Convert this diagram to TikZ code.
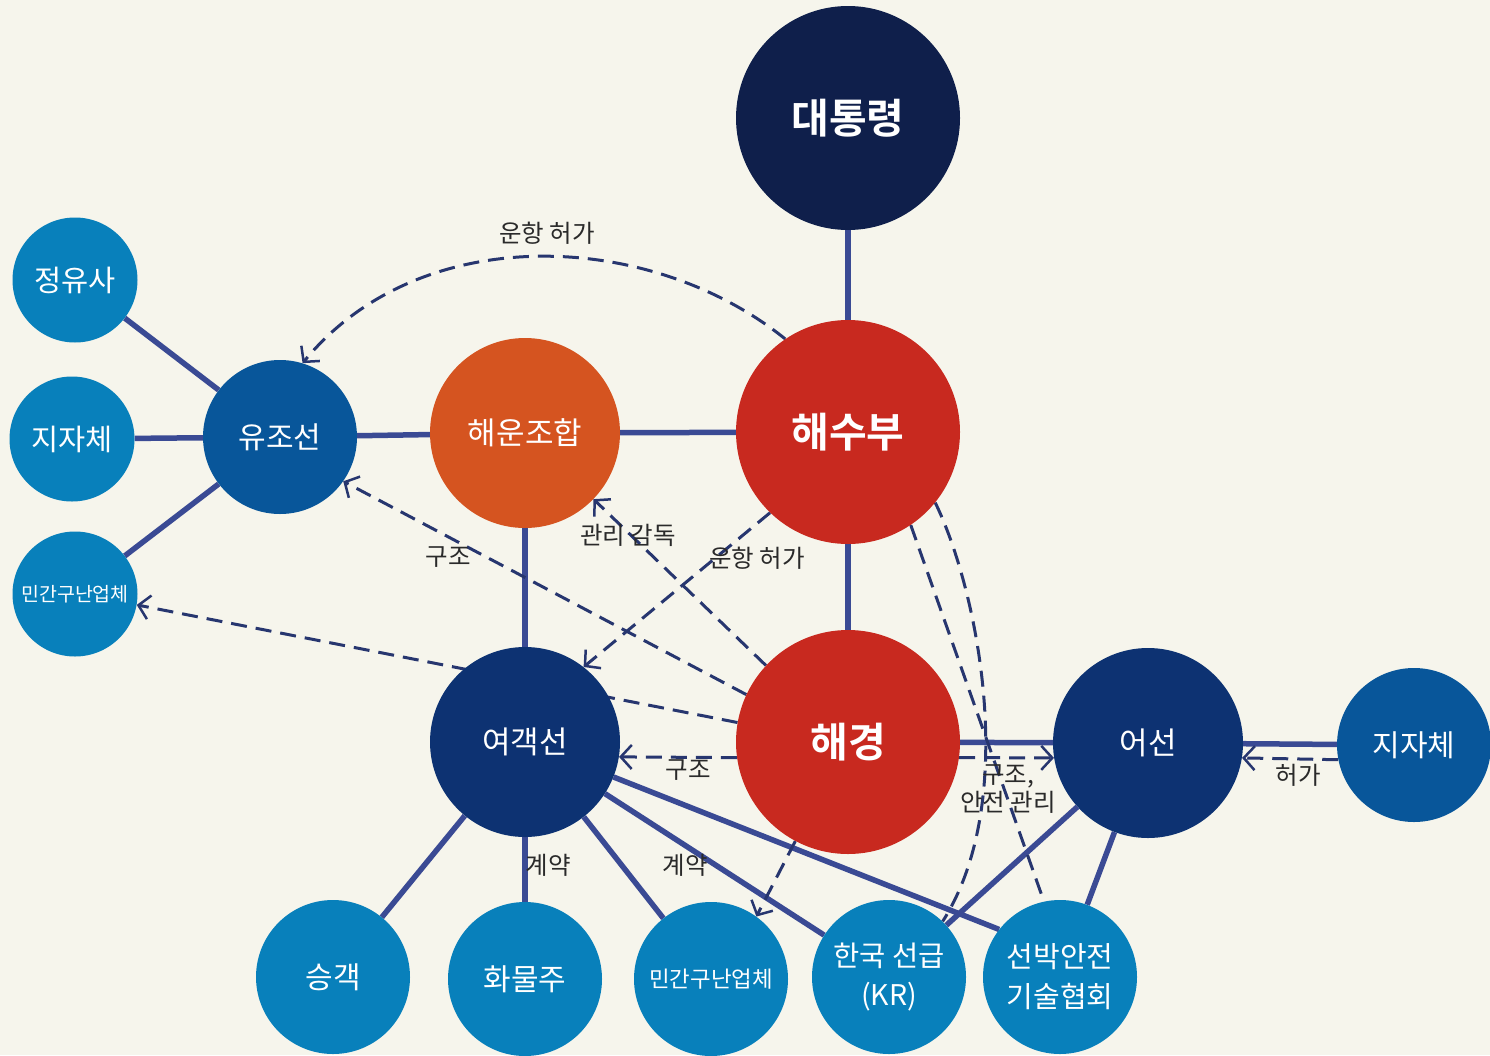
\documentclass[tikz,border=0pt]{standalone}
\usepackage{fontspec}
\setmainfont{Noto Sans CJK KR}[BoldFont={Noto Sans CJK KR Bold}]
\usetikzlibrary{arrows.meta}

\definecolor{paper}{HTML}{F6F5EC}
\definecolor{chief}{HTML}{0F1F4B}
\definecolor{govred}{HTML}{C8291F}
\definecolor{unionor}{HTML}{D55420}
\definecolor{shipnavy}{HTML}{0D3272}
\definecolor{shipblue}{HTML}{08569A}
\definecolor{sky}{HTML}{0880BB}
\definecolor{linkcol}{HTML}{3A4A94}
\definecolor{flowcol}{HTML}{27366F}
\definecolor{notecol}{HTML}{2A2A2A}

\pgfdeclarelayer{paperlayer}
\pgfdeclarelayer{edges}
\pgfsetlayers{paperlayer,edges,main}

\begin{document}
\begin{tikzpicture}[x=1pt,y=-1pt,
    hub/.style={circle,inner sep=0pt,text=white,align=center},
    bigc/.style={hub,minimum size=224pt,font=\fontsize{41}{44}\selectfont\bfseries},
    midc/.style={hub,minimum size=190pt,font=\fontsize{31}{34}\selectfont},
    smallc/.style={hub,minimum size=154pt,font=\fontsize{30}{40}\selectfont},
    tinyc/.style={hub,minimum size=125pt,font=\fontsize{29.5}{32}\selectfont},
    link/.style={draw=linkcol,line width=5.5pt},
    flow/.style={draw=flowcol,line width=3pt,dash pattern=on 16pt off 9pt},
    flowto/.style={flow,-{Straight Barb[length=11pt,width=24pt,line width=2.5pt]}},
    note/.style={text=notecol,font=\fontsize{24.5}{28}\selectfont,align=center}]
  \useasboundingbox (0,0) rectangle (1490,1055);
  \begin{pgfonlayer}{paperlayer}
    \fill[paper] (0,0) rectangle (1490,1055);
  \end{pgfonlayer}

  % circles
  \node[bigc,fill=chief] (pres) at (848,118) {대통령};
  \node[bigc,fill=govred] (haesu) at (848,432) {해수부};
  \node[bigc,fill=govred] (haegyeong) at (848,742) {해경};
  \node[midc,fill=unionor] (union) at (525,433) {해운조합};
  \node[midc,fill=shipnavy] (yeogaek) at (525,742) {여객선};
  \node[midc,fill=shipnavy] (eoseon) at (1148,743) {어선};
  \node[smallc,fill=shipblue] (yujo) at (280,437) {유조선};
  \node[smallc,fill=shipblue] (jijaeR) at (1414,745) {지자체};
  \node[tinyc,fill=sky] (jeongyu) at (75,280) {정유사};
  \node[tinyc,fill=sky] (jijaeL) at (72,439) {지자체};
  \node[tinyc,fill=sky,font=\fontsize{19.5}{22}\selectfont] (rescueL) at (75,594) {민간구난업체};
  \node[smallc,fill=sky] (passenger) at (333,977) {승객};
  \node[smallc,fill=sky] (cargo) at (525,979) {화물주};
  \node[smallc,fill=sky,font=\fontsize{22.4}{24}\selectfont] (rescueB) at (711,979) {민간구난업체};
  \node[smallc,fill=sky,font=\fontsize{28.5}{39}\selectfont] (kr) at (889,977) {한국 선급\\(KR)};
  \node[smallc,fill=sky,font=\fontsize{29}{40}\selectfont] (ksa) at (1060,977) {선박안전\\기술협회};

  % labels
  \node[note] (permitA) at (547,233) {운항 허가};
  \node[note] (superv) at (628,535) {관리 감독};
  \node[note] (permitB) at (757,558) {운항 허가};
  \node[note] (saveA) at (448,557) {구조};
  \node[note] (saveB) at (688,770) {구조};
  \node[note] (saveC) at (1008,789) {구조,\\안전 관리};
  \node[note] (permitC) at (1298,775) {허가};
  \node[note] (dealA) at (548,865) {계약};
  \node[note] (dealB) at (685,865) {계약};

  \begin{pgfonlayer}{edges}
    % solid ties
    \draw[link] (pres) -- (haesu);
    \draw[link] (haesu) -- (haegyeong);
    \draw[link] (haesu) -- (union);
    \draw[link] (union) -- (yujo);
    \draw[link] (union) -- (yeogaek);
    \draw[link] (yujo) -- (jeongyu);
    \draw[link] (yujo) -- (jijaeL);
    \draw[link] (yujo) -- (rescueL);
    \draw[link] (haegyeong) -- (eoseon);
    \draw[link] (eoseon) -- (jijaeR);
    \draw[link] (yeogaek) -- (passenger);
    \draw[link] (yeogaek) -- (cargo);
    \draw[link] (yeogaek) -- (rescueB);
    \draw[link] (yeogaek) -- (kr);
    \draw[link] (yeogaek) -- (ksa.142);
    \draw[link] (eoseon) -- (kr);
    \draw[link] (eoseon) -- (ksa);
    % dashed flows
    \draw[flowto] (haesu.124) .. controls (650,230) and (420,220) .. (yujo.73);
    \draw[flowto] (haesu.226) -- (yeogaek.52);
    \draw[flowto] (haegyeong.137) -- (union.-44);
    \draw[flowto] (haegyeong.155) -- (yujo.-35);
    \draw[flowto] (haegyeong.170) -- (rescueL.-10);
    \draw[flowto] (haegyeong.188) -- (yeogaek.-9.5);
    \draw[flowto] (haegyeong.-8) -- (eoseon.189.5);
    \draw[flowto] (jijaeR.191.5) -- (eoseon.-9.5);
    \draw[flowto] (haegyeong.242) -- (rescueB.54);
    \draw[flow] (haesu.-39) .. controls (978,590) and (1020,800) .. (kr.46);
    \draw[flow] (haesu.-56) -- (ksa.102);
  \end{pgfonlayer}
\end{tikzpicture}
\end{document}
